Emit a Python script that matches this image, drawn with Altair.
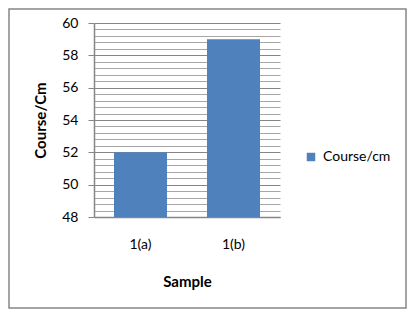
import altair as alt
import pandas as pd

# data
categories = ["1(a)", "1(b)"]
values = [52, 59]
series_name = "Course/cm"
y_major_ticks = [48, 50, 52, 54, 56, 58, 60]
y_min, y_max = 48, 60
minor_step = 0.4

grid_values = [round(y_min + minor_step * i, 1) for i in range(int(round((y_max - y_min) / minor_step)) + 1)]

df = pd.DataFrame({"sample": categories, "value": values, "series": [series_name] * len(categories)})

FONT = "Lato"
is_major = "abs(datum.value - 2*round(datum.value/2)) < 0.01"

W, H = 186, 194
PAD_L, PAD_T = 86, 15

bars = alt.Chart(df).mark_bar(color="#4F81BD").encode(
    x=alt.X("sample:N", sort=categories,
            scale=alt.Scale(paddingInner=0.43, paddingOuter=0.215),
            axis=alt.Axis(title="Sample", labelAngle=0, ticks=False, labelPadding=20,
                          labelFont=FONT, labelFontSize=14, labelColor="#000000",
                          titleFont=FONT, titleFontSize=15, titleFontWeight="bold",
                          titleColor="#000000", titleY=64, titleBaseline="middle",
                          domainColor="#868686", domainWidth=1.5, grid=False)),
    y=alt.Y("value:Q",
            scale=alt.Scale(domain=[y_min, y_max], nice=False, zero=False),
            axis=alt.Axis(title="Course/Cm", values=grid_values,
                          labelExpr=f"({is_major}) ? format(datum.value, 'd') : ''",
                          tickSize=6, labelPadding=10,
                          tickOpacity={"condition": {"test": is_major, "value": 1}, "value": 0},
                          tickColor="#868686",
                          gridColor={"condition": {"test": is_major, "value": "#868686"}, "value": "#A6A6A6"},
                          gridWidth=1.2,
                          labelFont=FONT, labelFontSize=14, labelColor="#000000",
                          titleFont=FONT, titleFontSize=15, titleFontWeight="bold",
                          titleColor="#000000", titleX=-54, titleY=H / 2,
                          titleBaseline="middle", titleAlign="center", titleAngle=270,
                          domainColor="#868686", domainWidth=1.5)),
    y2=alt.datum(y_min),
    color=alt.Color("series:N", scale=alt.Scale(range=["#4F81BD"]),
                    legend=alt.Legend(title=None, orient="none", legendX=210, legendY=127,
                                      symbolType="square", symbolSize=72, symbolStrokeWidth=0,
                                      labelFont=FONT, labelFontSize=14, labelColor="#000000",
                                      labelOffset=5)),
)

border = alt.Chart(pd.DataFrame({"a": [0]})).mark_rect(
    fill=None, stroke="#868686", strokeWidth=1.5
).encode(
    x=alt.value(-PAD_L + 1), x2=alt.value(406 - 8 - PAD_L),
    y=alt.value(-PAD_T + 1), y2=alt.value(308 - 8 - PAD_T),
)

chart = alt.layer(bars, border).properties(
    width=W, height=H,
    background="#FFFFFF",
    autosize=alt.AutoSizeParams(type="none"),
    padding={"left": PAD_L, "top": PAD_T, "right": 415 - 16 - PAD_L - W, "bottom": 317 - 16 - PAD_T - H},
).configure_view(stroke=None)

chart.save("out.html", embed_options={"renderer": "svg", "actions": False})
